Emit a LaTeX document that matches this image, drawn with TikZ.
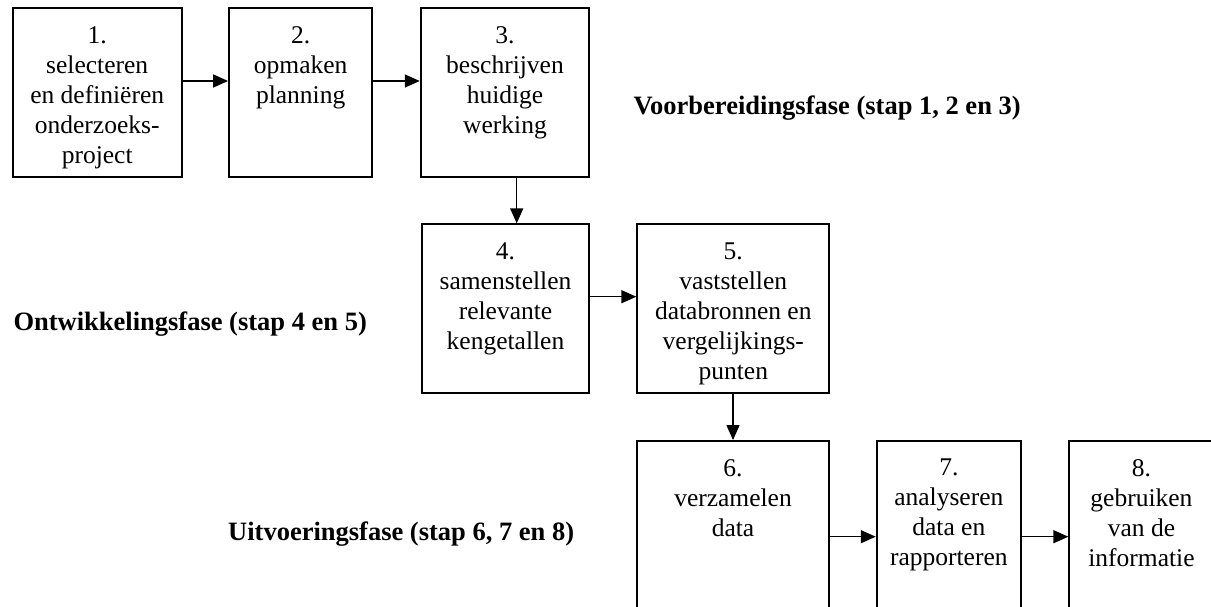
\documentclass[tikz,border=0pt]{standalone}
\usepackage{fontspec}
\setmainfont{Liberation Serif}
\usetikzlibrary{arrows.meta}
\begin{document}
\begin{tikzpicture}[x=1pt,y=-1pt,
  box/.style={draw, line width=1.9pt, inner sep=0pt, minimum height=168.4pt},
  txt/.style={anchor=north, inner sep=0pt, align=center, font=\fontsize{25.5}{30}\selectfont},
  phase/.style={anchor=base west, inner sep=0pt, font=\fontsize{26.5}{30}\selectfont\bfseries},
  arr/.style={-{Triangle[length=15pt,width=13pt]}, line width=1.5pt}]
\clip (0,0) rectangle (1211,607);
% boxes
\node[box, minimum width=169pt]   (b1) at (97.2,92.5) {};
\node[box, minimum width=143.3pt] (b2) at (300.7,92.5) {};
\node[box, minimum width=168.6pt] (b3) at (505,92.5) {};
\node[box, minimum width=167.6pt] (b4) at (505.5,308.5) {};
\node[box, minimum width=192pt]   (b5) at (733.3,308.5) {};
\node[box, minimum width=192.6pt, minimum height=209pt] (b6) at (733,545.5) {};
\node[box, minimum width=144.3pt, minimum height=209pt] (b7) at (948.85,545.5) {};
\node[box, minimum width=144.3pt, minimum height=209pt] (b8) at (1141.45,545.5) {};
% texts
\node[txt] (t1) at ([yshift=-19pt]b1.north) {1.\\selecteren\\en definiëren\\onderzoeks-\\project};
\node[txt] (t2) at ([yshift=-19pt]b2.north) {2.\\opmaken\\planning};
\node[txt] (t3) at ([yshift=-19pt]b3.north) {3.\\beschrijven\\huidige\\werking};
\node[txt] (t4) at ([yshift=-19pt]b4.north) {4.\\samenstellen\\relevante\\kengetallen};
\node[txt] (t5) at ([yshift=-19pt]b5.north) {5.\\vaststellen\\databronnen en\\vergelijkings-\\punten};
\node[txt] (t6) at ([yshift=-19pt]b6.north) {6.\\verzamelen\\data};
\node[txt] (t7) at ([yshift=-19pt]b7.north) {7.\\analyseren\\data en\\rapporteren};
\node[txt] (t8) at ([yshift=-19pt]b8.north) {8.\\gebruiken\\van de\\informatie};
% phase labels
\node[phase] (p1) at (633.3,115) {Voorbereidingsfase (stap 1, 2 en 3)};
\node[phase] (p2) at (13.3,330) {Ontwikkelingsfase (stap 4 en 5)};
\node[phase] (p3) at (228,540) {Uitvoeringsfase (stap 6, 7 en 8)};
% connector rows / columns
\coordinate (r12) at (0,81);
\coordinate (r23) at (0,81);
\coordinate (c34) at (516.7,0);
\coordinate (r45) at (0,296.7);
\coordinate (c56) at (733,0);
\coordinate (r67) at (0,536.7);
\draw[arr] (b1.east |- r12) -- (b2.west |- r12);
\draw[arr] (b2.east |- r23) -- (b3.west |- r23);
\draw[arr] (b3.south -| c34) -- (b4.north -| c34);
\draw[arr] (b4.east |- r45) -- (b5.west |- r45);
\draw[arr] (b5.south -| c56) -- (b6.north -| c56);
\draw[arr] (b6.east |- r67) -- (b7.west |- r67);
\draw[arr] (b7.east |- r67) -- (b8.west |- r67);
\end{tikzpicture}
\end{document}
